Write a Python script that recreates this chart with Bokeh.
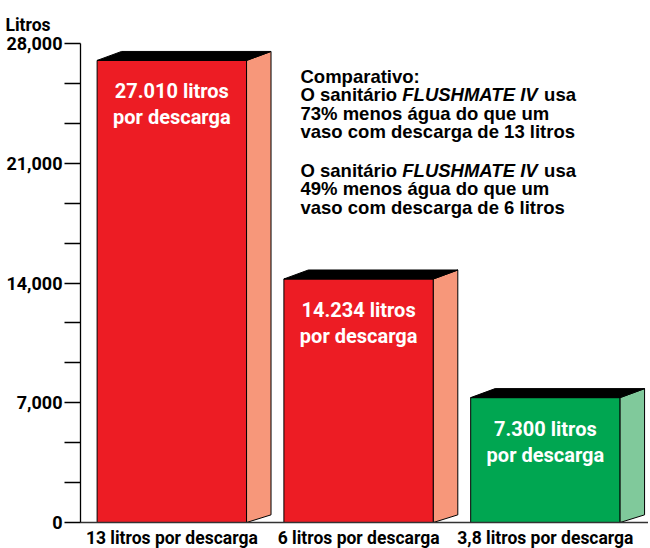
from bokeh.plotting import figure
from bokeh.models import Range1d, FixedTicker, NumeralTickFormatter, Label, ColumnDataSource
from bokeh.embed import file_html
from bokeh.resources import INLINE
from bokeh.core.properties import value

# ---- data ----
categories = ["13 litros por descarga", "6 litros por descarga", "3,8 litros por descarga"]
liters = [27010, 14234, 7300]
bar_line1 = ["27.010 litros", "14.234 litros", "7.300 litros"]
bar_line2 = ["por descarga", "por descarga", "por descarga"]
front_colors = ["#ED1C24", "#ED1C24", "#00A651"]
side_colors = ["#F7977A", "#F7977A", "#80C99B"]
y_ticks = [0, 7000, 14000, 21000, 28000]
y_minor_ticks = [2333.33, 4666.67, 9333.33, 11666.67, 16333.33, 18666.67, 23333.33, 25666.67]
axis_title = "Litros"
note_lines = [
    [("Comparativo:", "bold")],
    [("O sanitário", "bold"), ("FLUSHMATE IV", "bold italic"), ("usa", "bold")],
    [("73% menos água do que um", "bold")],
    [("vaso com descarga de 13 litros", "bold")],
    [],
    [("O sanitário", "bold"), ("FLUSHMATE IV", "bold italic"), ("usa", "bold")],
    [("49% menos água do que um", "bold")],
    [("vaso com descarga de 6 litros", "bold")],
]

# ---- style ----
NARROW = "Roboto"
SANS = "Liberation Sans"
X0, X1 = -0.489, 2.552
Y0, Y1 = 0, 28000
HW = 0.4          # half width of bar front
DX = 0.131        # depth in x (data)
DY = 526          # depth in y (data)

p = figure(frame_width=568, frame_height=479, min_border_left=80, min_border_right=0,
           min_border_top=43, min_border_bottom=26,
           x_range=Range1d(X0, X1), y_range=Range1d(Y0, Y1),
           output_backend="svg", toolbar_location=None)
p.outline_line_color = None
p.xgrid.visible = False
p.ygrid.visible = False
p.background_fill_color = "white"
p.border_fill_color = "white"

# title "Litros" at top-left
p.title.text = axis_title
p.title.align = "left"
p.title.offset = -75
p.title.standoff = 18
p.title.text_font = NARROW
p.title.text_font_style = "bold"
p.title.text_font_size = "17.5px"
p.title.text_color = "black"

idx = list(range(len(categories)))

# front faces
p.quad(left=[i - HW for i in idx], right=[i + HW for i in idx], bottom=[0] * len(idx), top=liters,
       fill_color=front_colors, line_color="black", line_width=1)
# side faces
side_xs = [[i + HW, i + HW + DX, i + HW + DX, i + HW] for i in idx]
side_ys = [[0, DY * 0.85, v + DY, v] for v in liters]
p.patches(side_xs, side_ys, fill_color=side_colors, line_color="black", line_width=1)
# top faces
top_xs = [[i - HW, i + HW, i + HW + DX, i - HW + DX] for i in idx]
top_ys = [[v, v, v + DY, v + DY] for v in liters]
p.patches(top_xs, top_ys, fill_color="black", line_color="black", line_width=1)

src = ColumnDataSource(dict(x=idx, y=liters, l1=bar_line1, l2=bar_line2))
p.text(x="x", y="y", text="l1", source=src, y_offset=31, text_align="center",
       text_baseline="alphabetic", text_color="white", text_font=value(NARROW),
       text_font_style="bold", text_font_size="20px")
p.text(x="x", y="y", text="l2", source=src, y_offset=57, text_align="center",
       text_baseline="alphabetic", text_color="white", text_font=value(NARROW),
       text_font_style="bold", text_font_size="20px")

# y axis
ya = p.yaxis[0]
ya.ticker = FixedTicker(ticks=y_ticks, minor_ticks=y_minor_ticks)
ya.formatter = NumeralTickFormatter(format="0,0")
ya.major_tick_out = 16
ya.major_tick_in = 0
ya.minor_tick_out = 16
ya.minor_tick_in = 0
ya.major_label_standoff = 2
ya.axis_line_color = "black"
ya.axis_line_width = 1.3
ya.major_tick_line_color = "black"
ya.major_tick_line_width = 1.3
ya.minor_tick_line_color = "black"
ya.minor_tick_line_width = 1.3
ya.major_label_text_font = NARROW
ya.major_label_text_font_style = "bold"
ya.major_label_text_font_size = "18px"
ya.major_label_text_color = "black"

# x axis
xa = p.xaxis[0]
xa.ticker = FixedTicker(ticks=idx)
xa.major_label_overrides = {i: c for i, c in zip(idx, categories)}
xa.major_tick_out = 0
xa.major_tick_in = 0
xa.minor_tick_out = 0
xa.minor_tick_in = 0
xa.major_label_standoff = 5
xa.axis_line_color = "#333333"
xa.axis_line_width = 1.3
xa.major_label_text_font = NARROW
xa.major_label_text_font_style = "bold"
xa.major_label_text_font_size = "17.5px"
xa.major_label_text_color = "black"

# note text
seg_offsets = [0, 101.8, 243.6]
first_base = 33
line_gap = 18.4
y = first_base
for line in note_lines:
    if not line:
        y += line_gap * 1.1
        continue
    for k, (txt, style) in enumerate(line):
        p.add_layout(Label(x=X0, y=Y1, x_offset=220 + seg_offsets[k], y_offset=-y, text=txt,
                           text_font=SANS, text_font_style=style, text_font_size="18.5px",
                           text_baseline="alphabetic", text_color="black"))
    y += line_gap

open("out.html", "w").write(file_html(p, INLINE))
